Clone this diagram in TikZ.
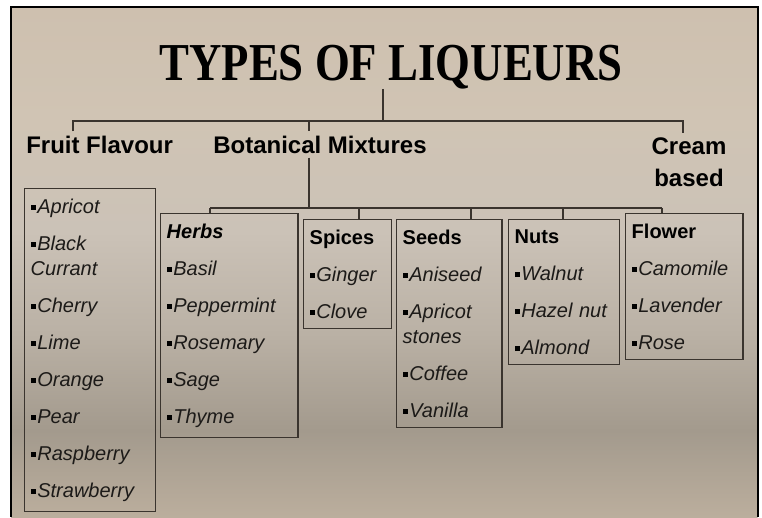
\documentclass[tikz,border=0pt]{standalone}
\usepackage{fontspec}
\usepackage{graphicx}
\setmainfont{Liberation Sans}
\newfontfamily\titlefont{Liberation Serif}

\definecolor{bgtop}{HTML}{CEC0AF}
\definecolor{bghigh}{HTML}{D0C4B4}
\definecolor{bglight}{HTML}{CBC2B7}
\definecolor{bgmid}{HTML}{BAB1A5}
\definecolor{bgdark}{HTML}{A39A8D}
\definecolor{bgbot}{HTML}{BBAE9D}
\definecolor{lineclr}{HTML}{3A342E}
\definecolor{itemclr}{HTML}{1C1A18}

\pgfdeclareverticalshading{slidebg}{100bp}{color(0bp)=(bgbot); color(25bp)=(bgbot);
  color(33.5bp)=(bgdark); color(43bp)=(bgmid); color(53bp)=(bglight);
  color(64bp)=(bghigh); color(75bp)=(bgtop); color(100bp)=(bgtop)}

\newcommand{\bul}{\textcolor{black}{\rule[0.17em]{0.25em}{0.25em}}\hspace{0.08em}}
\newcommand{\grouphead}[1]{\textcolor{black}{\bfseries\upshape #1}}

\begin{document}
\begin{tikzpicture}[x=0.75pt,y=-0.75pt,
    link/.style={draw=lineclr, line width=1.2pt},
    section/.style={font=\fontsize{18}{24}\selectfont\bfseries, text=black, inner sep=3pt},
    listbox/.style={draw=lineclr, line width=1.1pt, anchor=north west, align=left,
      inner xsep=4.5pt, inner ysep=7.5pt,
      font=\fontsize{15}{18.75}\selectfont\itshape, text=itemclr}]

    \useasboundingbox (0,0) rectangle (762,517);
    \fill[white] (0,0) rectangle (762,517);

    % the slide
    \fill[shading=slidebg] (11,7.5) rectangle (757.5,517);
    \draw[line width=1.5pt] (11,517) -- (11,7.5) -- (757.5,7.5) -- (757.5,517);

    % title and the three kinds
    \node[anchor=base, inner sep=0pt, font=\titlefont\bfseries\fontsize{40}{40}\selectfont] (title) at (391,80) {\scalebox{0.84}[1]{TYPES OF LIQUEURS}};
    \node[section, anchor=base west] (fruit) at (22,153) {Fruit Flavour};
    \node[section, anchor=base west] (botanical) at (209,153) {Botanical Mixtures};
    \node[section, anchor=north, align=center] (cream) at (689,133) {Cream\\based};

    \coordinate (hub) at (383,121);
    \coordinate (fdrop) at (73,121);
    \coordinate (bdrop) at (309,121);
    \coordinate (cdrop) at (683,121);
    \draw[link] (hub |- title.south) -- (hub);
    \draw[link] (fdrop |- fruit.north) -- (fdrop) -- (cdrop) -- (cdrop |- cream.north);
    \draw[link] (bdrop) -- (bdrop |- botanical.north);

    % the lists
    \node[listbox, text width=89pt] (fruitlist) at (24,188) {\bul Apricot\\[9pt]\bul Black\\Currant\\[9pt]\bul Cherry\\[9pt]\bul Lime\\[9pt]\bul Orange\\[9pt]\bul Pear\\[9pt]\bul Raspberry\\[9pt]\bul Strawberry};
    \node[listbox, text width=94pt] (herbs) at (160,213) {\textcolor{black}{\bfseries Herbs}\\[9pt]\bul Basil\\[9pt]\bul Peppermint\\[9pt]\bul Rosemary\\[9pt]\bul Sage\\[9pt]\bul Thyme};
    \node[listbox, text width=57pt] (spices) at (303,219) {\grouphead{Spices}\\[9pt]\bul Ginger\\[9pt]\bul Clove};
    \node[listbox, text width=70pt] (seeds) at (396,219) {\grouphead{Seeds}\\[9pt]\bul Aniseed\\[9pt]\bul Apricot\\stones\\[9pt]\bul Coffee\\[9pt]\bul Vanilla};
    \node[listbox, text width=74pt] (nuts) at (508,219) {\grouphead{Nuts}\\[9pt]\bul Walnut\\[9pt]\bul Hazel nut\\[9pt]\bul Almond};
    \node[listbox, text width=79pt] (flower) at (625,213) {\grouphead{Flower}\\[9pt]\bul Camomile\\[9pt]\bul Lavender\\[9pt]\bul Rose};

    % botanical branches
    \coordinate (sub) at (309,208);
    \draw[link] (sub |- botanical.south) -- (sub);
    \foreach \x/\n in {210/herbs, 359/spices, 471/seeds, 563/nuts, 662/flower}
        \coordinate (d\n) at (\x,208);
    \draw[link] (dherbs) -- (dflower);
    \foreach \n in {herbs, spices, seeds, nuts, flower}
        \draw[link] (d\n) -- (d\n |- \n.north);

\end{tikzpicture}
\end{document}
